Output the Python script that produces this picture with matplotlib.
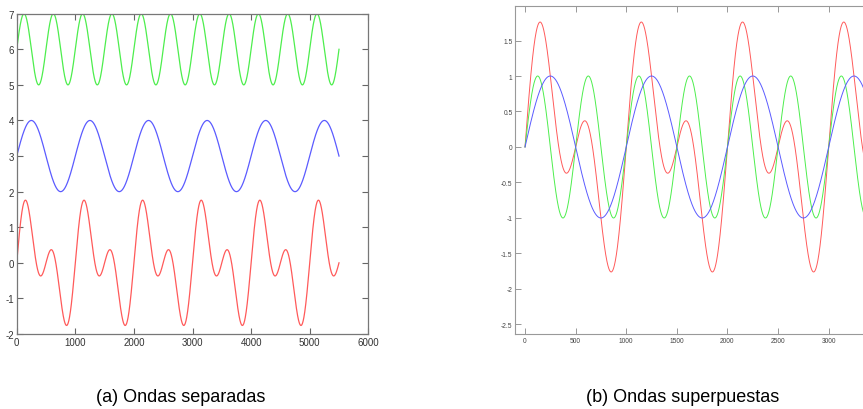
import matplotlib
matplotlib.use('Agg')
import matplotlib.pyplot as plt
import numpy as np

# wave parameters
x_end = 5500
blue_period = 1000
green_period = 500
amplitude = 1.0
offsets = {'green': 6, 'blue': 3, 'red': 0}
colors = {'green': '#4dee4d', 'blue': '#5b5bff', 'red': '#ff5a5a'}

left_yticks = [-2, -1, 0, 1, 2, 3, 4, 5, 6, 7]
left_xticks = [0, 1000, 2000, 3000, 4000, 5000, 6000]
right_yticks = [-2.5, -2, -1.5, -1, -0.5, 0, 0.5, 1, 1.5]
right_ytick_labels = ['-2.5', '-2', '-1.5', '-1', '-0.5', '0', '0.5', '1', '1.5']
right_xticks = [0, 500, 1000, 1500, 2000, 2500, 3000]

captions = ['(a) Ondas separadas', '(b) Ondas superpuestas']

x = np.arange(0, x_end + 1)
blue = amplitude * np.sin(2 * np.pi * x / blue_period)
green = amplitude * np.sin(2 * np.pi * x / green_period)
red = blue + green
waves = {'green': green, 'blue': blue, 'red': red}

plt.rcParams['font.family'] = ['Liberation Sans', 'DejaVu Sans']
plt.rcParams['axes.unicode_minus'] = False

W, H = 863, 410
fig = plt.figure(figsize=(W / 100, H / 100), dpi=100)

# left panel: waves shifted apart
ax1 = fig.add_axes([16.7 / W, (H - 335) / H, (368.3 - 16.7) / W, (335 - 14.7) / H])
for name in ['green', 'blue', 'red']:
    ax1.plot(x, waves[name] + offsets[name], color=colors[name], lw=0.9)
ax1.set_xlim(0, 6000)
ax1.set_ylim(-2, 7)
ax1.set_xticks(left_xticks)
ax1.set_yticks(left_yticks)
ax1.tick_params(direction='in', top=True, right=True, length=4, width=0.8,
                labelsize=7, colors='#666666', labelcolor='#333333', pad=2)
for s in ax1.spines.values():
    s.set_color('#777777')
    s.set_linewidth(0.9)

# right panel: waves on top of each other (cut at the right edge)
ax2 = fig.add_axes([515.3 / W, (H - 335) / H, 364 / W, (335 - 7) / H])
for name in ['red', 'green', 'blue']:
    ax2.plot(x, waves[name], color=colors[name], lw=0.7)
ax2.set_xlim(-96, 3500)
ax2.set_ylim(-2.634, 1.986)
ax2.set_xticks(right_xticks)
ax2.set_yticks(right_yticks)
ax2.set_yticklabels(right_ytick_labels)
ax2.tick_params(direction='in', top=True, right=True, length=4, width=0.6,
                labelsize=4.8, colors='#888888', labelcolor='#444444', pad=2)
for s in ax2.spines.values():
    s.set_color('#999999')
    s.set_linewidth(0.8)

fig.text(181 / W, 1 - 398 / H, captions[0], ha='center', va='center', fontsize=13)
fig.text(683 / W, 1 - 398 / H, captions[1], ha='center', va='center', fontsize=13)

fig.savefig('out.png', dpi=100)
